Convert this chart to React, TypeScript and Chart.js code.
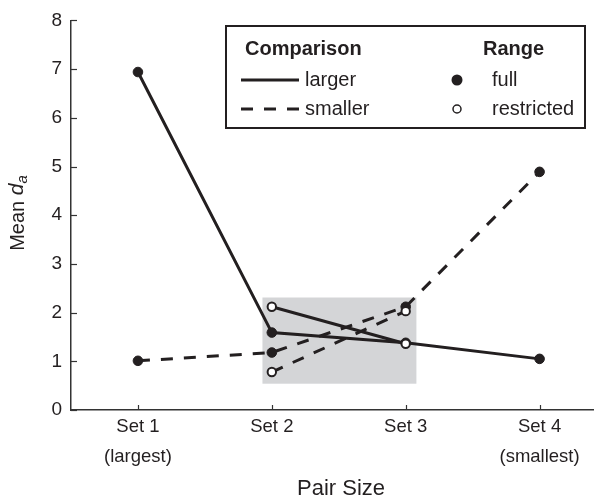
import React, { useEffect, useRef } from 'react';
import { Chart, registerables } from 'chart.js';

Chart.register(...registerables);

// ---- data ----
const categories: string[][] = [['Set 1', '(largest)'], ['Set 2'], ['Set 3'], ['Set 4', '(smallest)']];
const catPositions = [1, 2, 3, 4];
const largerFull: (number | null)[] = [6.94, 1.59, 1.38, 1.05];
const largerRestricted: (number | null)[] = [null, 2.12, 1.36, null];
const smallerFull: (number | null)[] = [1.01, 1.18, 2.12, 4.89];
const smallerRestricted: (number | null)[] = [null, 0.78, 2.03, null];
const yTicks = [0, 1, 2, 3, 4, 5, 6, 7, 8];
const highlight = { xFrom: 1.93, xTo: 3.08, yFrom: 0.54, yTo: 2.31 };
const legendComparison = ['larger', 'smaller'];
const legendRange = ['full', 'restricted'];
const xTitle = 'Pair Size';

const INK = '#231f20';
const AXIS = '#333333';
const FONT = '"Liberation Sans", Arial, Helvetica, sans-serif';

function toPoints(vals: (number | null)[]) {
  const out: { x: number; y: number }[] = [];
  vals.forEach((v, i) => {
    if (v !== null) out.push({ x: catPositions[i], y: v });
  });
  return out;
}

const decorPlugin = {
  id: 'decor',
  beforeDatasetsDraw(chart: any) {
    const { ctx, scales } = chart;
    const x = scales.x, y = scales.y;
    ctx.save();
    ctx.fillStyle = '#d4d5d7';
    const x0 = x.getPixelForValue(highlight.xFrom);
    const x1 = x.getPixelForValue(highlight.xTo);
    const y0 = y.getPixelForValue(highlight.yTo);
    const y1 = y.getPixelForValue(highlight.yFrom);
    ctx.fillRect(x0, y0, x1 - x0, y1 - y0);
    ctx.restore();
  },
  afterDraw(chart: any) {
    const { ctx, scales, chartArea } = chart;
    const x = scales.x, y = scales.y;
    ctx.save();
    // inward tick marks
    ctx.strokeStyle = AXIS;
    ctx.lineWidth = 1.2;
    yTicks.forEach((t) => {
      const py = Math.round(y.getPixelForValue(t)) + 0.5;
      ctx.beginPath();
      ctx.moveTo(chartArea.left, py);
      ctx.lineTo(chartArea.left + 6, py);
      ctx.stroke();
    });
    catPositions.forEach((c) => {
      const px = Math.round(x.getPixelForValue(c)) + 0.5;
      ctx.beginPath();
      ctx.moveTo(px, chartArea.bottom);
      ctx.lineTo(px, chartArea.bottom - 5);
      ctx.stroke();
    });

    // x axis title
    ctx.fillStyle = INK;
    ctx.textBaseline = 'middle';
    ctx.textAlign = 'center';
    ctx.font = `22px ${FONT}`;
    ctx.fillText(xTitle, 341, 489);

    // y axis title: Mean d_a
    ctx.translate(18, 213);
    ctx.rotate(-Math.PI / 2);
    const f1 = `20px ${FONT}`;
    const f2 = `italic 21px ${FONT}`;
    const f3 = `italic 15px ${FONT}`;
    ctx.font = f1;
    const w1 = ctx.measureText('Mean ').width;
    ctx.font = f2;
    const w2 = ctx.measureText('d').width;
    ctx.font = f3;
    const w3 = ctx.measureText('a').width;
    let sx = -(w1 + w2 + w3) / 2;
    ctx.textAlign = 'left';
    ctx.font = f1;
    ctx.fillText('Mean ', sx, 0);
    sx += w1;
    ctx.font = f2;
    ctx.fillText('d', sx, -1);
    sx += w2;
    ctx.font = f3;
    ctx.fillText('a', sx, 5);
    ctx.restore();

    // legend
    ctx.save();
    ctx.strokeStyle = INK;
    ctx.lineWidth = 2;
    ctx.strokeRect(226, 26, 359, 102);
    ctx.fillStyle = INK;
    ctx.textBaseline = 'middle';
    ctx.textAlign = 'left';
    ctx.font = `bold 20px ${FONT}`;
    ctx.fillText('Comparison', 245, 49);
    ctx.fillText('Range', 483, 49);
    ctx.font = `20px ${FONT}`;
    ctx.fillText(legendComparison[0], 305, 80);
    ctx.fillText(legendComparison[1], 305, 109);
    ctx.fillText(legendRange[0], 492, 80);
    ctx.fillText(legendRange[1], 492, 109);
    ctx.lineWidth = 3;
    ctx.beginPath();
    ctx.moveTo(241, 80);
    ctx.lineTo(299, 80);
    ctx.stroke();
    ctx.setLineDash([12, 11]);
    ctx.beginPath();
    ctx.moveTo(241, 109);
    ctx.lineTo(299, 109);
    ctx.stroke();
    ctx.setLineDash([]);
    ctx.beginPath();
    ctx.arc(457, 80, 5.5, 0, Math.PI * 2);
    ctx.fill();
    ctx.lineWidth = 1.5;
    ctx.beginPath();
    ctx.arc(457, 109, 4, 0, Math.PI * 2);
    ctx.fillStyle = '#fff';
    ctx.fill();
    ctx.stroke();
    ctx.restore();
  },
};

export default function App() {
  const ref = useRef<HTMLCanvasElement | null>(null);
  useEffect(() => {
    if (!ref.current) return;
    const filled = {
      pointRadius: 4.8,
      pointBackgroundColor: INK,
      pointBorderColor: INK,
      pointBorderWidth: 1,
    };
    const open = {
      pointRadius: 4.2,
      pointBackgroundColor: '#ffffff',
      pointBorderColor: INK,
      pointBorderWidth: 2,
    };
    const chart = new Chart(ref.current, {
      type: 'line',
      data: {
        datasets: [
          { label: 'larger full', data: toPoints(largerFull), borderColor: INK, borderWidth: 3, order: 2, ...filled },
          { label: 'larger restricted', data: toPoints(largerRestricted), borderColor: INK, borderWidth: 3, order: 1, ...open },
          { label: 'smaller full', data: toPoints(smallerFull), borderColor: INK, borderWidth: 3, borderDash: [12, 11], order: 2, ...filled },
          { label: 'smaller restricted', data: toPoints(smallerRestricted), borderColor: INK, borderWidth: 3, borderDash: [12, 11], order: 1, ...open },
        ],
      },
      options: {
        responsive: false,
        animation: false,
        events: [],
        layout: { padding: { top: 17, left: 0, right: 0, bottom: 0 } },
        plugins: { legend: { display: false }, tooltip: { enabled: false } },
        scales: {
          x: {
            type: 'linear',
            min: 0.5,
            max: 4.405,
            afterBuildTicks: (s: any) => {
              s.ticks = catPositions.map((v) => ({ value: v }));
            },
            afterFit: (s: any) => {
              s.height = 89;
            },
            grid: { display: false, drawTicks: false },
            border: { display: true, color: AXIS, width: 1.5 },
            ticks: {
              padding: 2,
              color: INK,
              font: { family: FONT, size: 18.5, lineHeight: 1.62 },
              callback: (v: any) => {
                const i = catPositions.indexOf(Number(v));
                return i >= 0 ? categories[i] : '';
              },
            },
          },
          y: {
            type: 'linear',
            min: 0,
            max: 8,
            afterBuildTicks: (s: any) => {
              s.ticks = yTicks.map((v) => ({ value: v }));
            },
            afterFit: (s: any) => {
              s.width = 71;
            },
            grid: { display: false, drawTicks: false },
            border: { display: true, color: AXIS, width: 1.5 },
            ticks: {
              padding: 9,
              color: INK,
              font: { family: FONT, size: 19 },
            },
          },
        },
      },
      plugins: [decorPlugin],
    } as any);
    return () => chart.destroy();
  }, []);
  return (
    <div style={{ position: 'absolute', left: 0, top: 0, width: 600, height: 499 }}>
      <canvas ref={ref} width={600} height={499} style={{ display: 'block' }} />
    </div>
  );
}
